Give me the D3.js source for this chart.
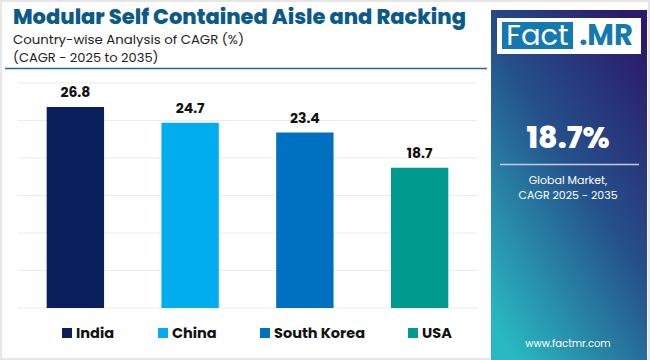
<!DOCTYPE html>
<html><head><meta charset="utf-8">
<script src="https://cdn.jsdelivr.net/npm/d3@7"></script>
<style>body{margin:0;padding:0;background:#fff;}svg{display:block;}</style>
</head><body>
<svg id="chart" width="650" height="360"></svg>
<script>
const categories = ["India", "China", "South Korea", "USA"];
const values = [26.8, 24.7, 23.4, 18.7];
const colors = ["#0a1f5c", "#00aeef", "#0070c0", "#009a8e"];
const yTicks = [0, 5, 10, 15, 20, 25, 30];
const title = "Modular Self Contained Aisle and Racking";
const subtitle1 = "Country-wise Analysis of CAGR (%)";
const subtitle2 = "(CAGR - 2025 to 2035)";
const globalValue = "18.7%";

const svg = d3.select("#chart");
const font = "Poppins, Inter, 'Noto Sans', sans-serif";

// outer frame
svg.append("rect").attr("x",1).attr("y",1).attr("width",648).attr("height",358)
  .attr("fill","#fff").attr("stroke","#e6e6e6").attr("stroke-width",2);

// defs
const defs = svg.append("defs");
const g1 = defs.append("linearGradient").attr("id","panelGrad")
  .attr("x1","0.85").attr("y1","0").attr("x2","0.15").attr("y2","1");
g1.append("stop").attr("offset","0").attr("stop-color","#2b1a6b");
g1.append("stop").attr("offset","0.45").attr("stop-color","#25508a");
g1.append("stop").attr("offset","1").attr("stop-color","#2ab9c2");
const g2 = defs.append("linearGradient").attr("id","lineGrad")
  .attr("x1","0").attr("y1","0").attr("x2","1").attr("y2","0");
g2.append("stop").attr("offset","0").attr("stop-color","#2a8fb5");
g2.append("stop").attr("offset","1").attr("stop-color","#1f5f8b");

// title
svg.append("text").attr("x",13).attr("y",23.5).text(title)
  .attr("font-family",font).attr("font-weight",800).attr("font-size",21.5)
  .attr("fill","#0b5a8a").attr("textLength",453).attr("lengthAdjust","spacingAndGlyphs");
svg.append("text").attr("x",13).attr("y",43.5).text(subtitle1)
  .attr("font-family",font).attr("font-size",12.5).attr("fill","#222")
  .attr("textLength",231).attr("lengthAdjust","spacingAndGlyphs");
svg.append("text").attr("x",13).attr("y",62).text(subtitle2)
  .attr("font-family",font).attr("font-size",13).attr("fill","#222");
svg.append("line").attr("x1",5).attr("x2",487).attr("y1",68.5).attr("y2",68.5)
  .attr("stroke","#1f6a96").attr("stroke-width",1.5);

// chart
const x = d3.scaleBand().domain(categories).range([18,477]).paddingInner(0.5).paddingOuter(0.25);
const y = d3.scaleLinear().domain([0,30]).range([308,83]);

const grid = svg.append("g");
grid.selectAll("line").data(yTicks).join("line")
  .attr("x1",18).attr("x2",477).attr("y1",d=>y(d)).attr("y2",d=>y(d))
  .attr("stroke","#ebebeb").attr("stroke-width",1);

svg.append("g").selectAll("rect").data(values).join("rect")
  .attr("x",(d,i)=>x(categories[i])).attr("width",x.bandwidth())
  .attr("y",d=>y(d)).attr("height",d=>y(0)-y(d))
  .attr("fill",(d,i)=>colors[i]);

svg.append("g").selectAll("text").data(values).join("text")
  .attr("x",(d,i)=>x(categories[i])+x.bandwidth()/2).attr("y",d=>y(d)-10)
  .attr("text-anchor","middle").text(d=>d.toFixed(1))
  .attr("font-family",font).attr("font-weight",700).attr("font-size",14).attr("fill","#111");

// legend
const legX = [62, 158, 260, 408];
const leg = svg.append("g");
categories.forEach((c,i)=>{
  leg.append("rect").attr("x",legX[i]).attr("y",328).attr("width",10).attr("height",10).attr("fill",colors[i]);
  leg.append("text").attr("x",legX[i]+14).attr("y",337.5).text(c)
    .attr("font-family",font).attr("font-weight",700).attr("font-size",14.5).attr("fill","#111");
});

// bottom line
svg.append("line").attr("x1",6).attr("x2",492).attr("y1",358).attr("y2",358)
  .attr("stroke","url(#lineGrad)").attr("stroke-width",2.5);

// right panel
svg.append("rect").attr("x",491).attr("y",10).attr("width",156).attr("height",350).attr("fill","url(#panelGrad)");
svg.append("rect").attr("x",497).attr("y",18).attr("width",144).attr("height",36).attr("fill","#fff");
svg.append("rect").attr("x",502).attr("y",22).attr("width",71).attr("height",27).attr("fill","#1479b0");
svg.append("text").attr("x",537.5).attr("y",45).attr("text-anchor","middle").text("Fact")
  .attr("font-family",font).attr("font-weight",400).attr("font-size",29).attr("fill","#fff");
svg.append("text").attr("x",606).attr("y",45).attr("text-anchor","middle").text(".MR")
  .attr("font-family",font).attr("font-weight",700).attr("font-size",29).attr("fill","#1479b0");

svg.append("text").attr("x",568).attr("y",148).attr("text-anchor","middle").text(globalValue)
  .attr("font-family",font).attr("font-weight",800).attr("font-size",30).attr("fill","#fff");
svg.append("line").attr("x1",500).attr("x2",639).attr("y1",164.5).attr("y2",164.5)
  .attr("stroke","#c9c9e6").attr("stroke-width",1.5);
svg.append("text").attr("x",568).attr("y",184).attr("text-anchor","middle").text("Global Market,")
  .attr("font-family",font).attr("font-size",11).attr("fill","#fff");
svg.append("text").attr("x",568).attr("y",199).attr("text-anchor","middle").text("CAGR 2025 - 2035")
  .attr("font-family",font).attr("font-size",11).attr("fill","#fff");
svg.append("text").attr("x",568).attr("y",347).attr("text-anchor","middle").text("www.factmr.com")
  .attr("font-family",font).attr("font-size",10).attr("fill","#fff");
</script>
</body></html>
